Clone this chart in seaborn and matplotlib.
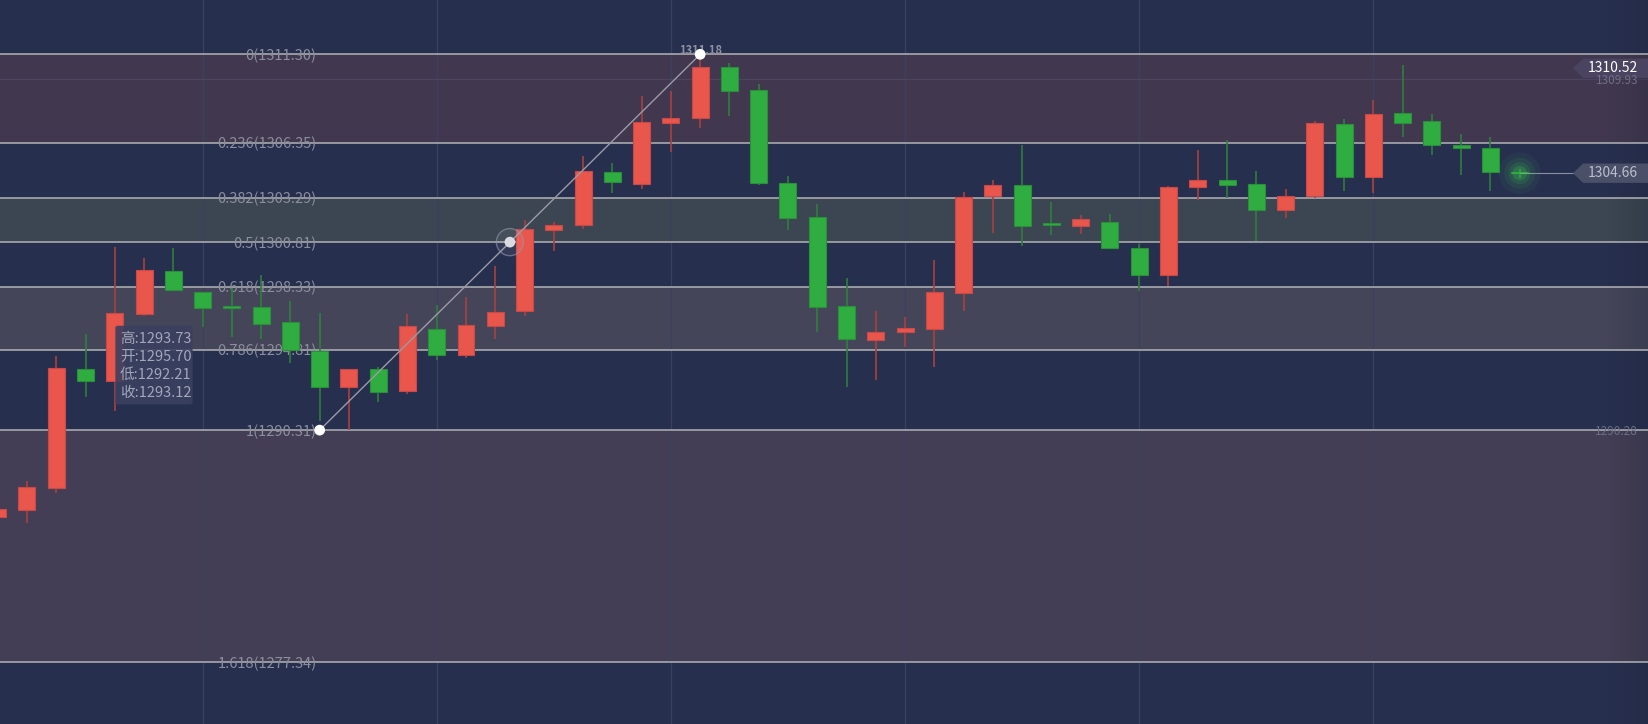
import numpy as np
import pandas as pd
import matplotlib.pyplot as plt
from matplotlib.patches import FancyBboxPatch, Polygon
import seaborn as sns

# candle data, index 0 is the partly hidden first candle
opens = [1285.48, 1285.85, 1287.06, 1293.71, 1293.05, 1296.78, 1299.18, 1298.01, 1297.20, 1297.17,
         1296.33, 1294.75, 1292.74, 1293.71, 1292.48, 1295.94, 1294.49, 1296.11, 1296.95, 1301.47,
         1301.75, 1304.74, 1304.04, 1307.45, 1307.73, 1310.57, 1309.29, 1304.10, 1302.20, 1297.23,
         1295.33, 1295.77, 1295.94, 1297.97, 1303.39, 1304.02, 1301.83, 1301.71, 1301.95, 1300.50,
         1298.97, 1303.89, 1304.30, 1304.07, 1302.59, 1303.37, 1307.38, 1304.45, 1308.00, 1307.56,
         1306.23, 1306.05, 1304.69]
highs = [1285.95, 1287.47, 1294.45, 1295.68, 1300.55, 1299.92, 1300.48, 1298.05, 1298.23, 1298.97,
         1297.52, 1296.85, 1293.71, 1293.85, 1296.80, 1297.30, 1297.75, 1299.48, 1302.05, 1301.92,
         1305.62, 1305.23, 1308.97, 1309.25, 1311.18, 1310.81, 1309.64, 1304.50, 1302.94, 1298.81,
         1296.96, 1296.63, 1299.81, 1303.61, 1304.28, 1306.23, 1303.05, 1302.31, 1302.38, 1300.69,
         1303.94, 1305.96, 1306.51, 1304.78, 1303.78, 1307.57, 1307.69, 1308.75, 1310.70, 1307.97,
         1306.85, 1306.68, 1304.89]
lows = [1285.40, 1285.12, 1286.78, 1292.18, 1291.39, 1296.70, 1298.10, 1296.09, 1295.53, 1295.42,
        1294.04, 1290.84, 1290.32, 1291.90, 1292.31, 1294.24, 1294.36, 1295.42, 1296.70, 1300.33,
        1301.54, 1303.57, 1303.79, 1305.86, 1307.20, 1307.87, 1304.00, 1301.49, 1295.79, 1292.74,
        1293.11, 1294.95, 1293.85, 1296.98, 1301.34, 1300.61, 1301.22, 1301.28, 1300.45, 1298.10,
        1298.36, 1303.18, 1303.27, 1300.89, 1302.17, 1303.27, 1303.68, 1303.57, 1306.68, 1305.69,
        1304.58, 1303.68, 1304.41]
closes = [1285.89, 1287.12, 1293.76, 1293.05, 1296.83, 1299.24, 1298.12, 1297.11, 1297.14, 1296.22,
          1294.79, 1292.74, 1293.71, 1292.42, 1296.11, 1294.49, 1296.16, 1296.89, 1301.52, 1301.78,
          1304.77, 1304.15, 1307.50, 1307.73, 1310.57, 1309.23, 1304.10, 1302.14, 1297.19, 1295.38,
          1295.81, 1296.00, 1298.01, 1303.35, 1304.02, 1301.69, 1301.79, 1302.12, 1300.48, 1298.97,
          1303.89, 1304.30, 1304.00, 1302.59, 1303.37, 1307.44, 1304.45, 1307.95, 1307.45, 1306.22,
          1306.05, 1304.71, 1304.66]

fib_ratios = ["0", "0.236", "0.382", "0.5", "0.618", "0.786", "1", "1.618"]
fib_levels = [1311.30, 1306.35, 1303.29, 1300.81, 1298.33, 1294.81, 1290.31, 1277.34]
swing_idx = [11, 24]          # candles the fib tool was drawn between
peak_label = 1311.18

tip_names = ["高", "开", "低", "收"]
tip_values = [1293.73, 1295.70, 1292.21, 1293.12]

last_price = 1304.66
side_labels = [1310.52, 1309.93, 1290.28]

df = pd.DataFrame({"o": opens, "h": highs, "l": lows, "c": closes})
df["i"] = np.arange(len(df))
df["up"] = df["c"] >= df["o"]

BG = "#272f4f"
sns.set_style("dark", {"axes.facecolor": BG, "figure.facecolor": BG})
plt.rcParams["font.family"] = ["Liberation Sans Narrow", "Noto Sans CJK SC", "DejaVu Sans"]

fig = plt.figure(figsize=(16.48, 7.24), dpi=100)
ax = fig.add_axes([0, 0, 1, 1])
ax.set_facecolor(BG)
ax.set_xlim(0.0786, 56.383)
ax.set_ylim(1273.897, 1314.333)
ax.axis("off")

# fib bands
band_cols = ["#41384f", "#3b4652", "#444559", "#433e55"]
for k, col in enumerate(band_cols):
    ax.axhspan(fib_levels[2 * k + 1], fib_levels[2 * k], color=col, lw=0, zorder=0)

# faint grid
for gx in range(7, 50, 8):
    ax.axvline(gx, color="#3a4160", lw=0.9, zorder=0.5)
ax.axhline(1309.90, color="#4b4560", lw=0.9, zorder=0.5)

# fib lines + labels
for r, lv in zip(fib_ratios, fib_levels):
    ax.axhline(lv, color="#b3b3b6", lw=1.1, zorder=1)
    ax.text(swing_idx[0] - 0.1, lv - 0.08, f"{r}({lv:.2f})", ha="right", va="center",
            fontsize=10.5, color="#8b8e9c", zorder=2)

# candles
red_body, red_edge, red_wick = "#e9564b", "#c9494a", "#a8413f"
grn_body, grn_edge, grn_wick = "#30ad41", "#2a8e3b", "#2f7e3e"
wick_cols = np.where(df["up"], red_wick, grn_wick)
ax.vlines(df["i"], df["l"], df["h"], colors=wick_cols, lw=1.2, zorder=3)
heights = np.maximum((df["c"] - df["o"]).abs(), 0.08)
bottoms = np.minimum(df["o"], df["c"])
ax.bar(df["i"], heights, bottom=bottoms, width=0.58,
       color=np.where(df["up"], red_body, grn_body),
       edgecolor=np.where(df["up"], red_edge, grn_edge), linewidth=0.8, zorder=4)

# swing line and handles
swing = pd.DataFrame({"x": swing_idx, "y": [fib_levels[6], fib_levels[0]]})
sns.lineplot(data=swing, x="x", y="y", ax=ax, color="#9b9ba6", lw=1.0, zorder=5)
mid_x, mid_y = np.mean(swing_idx), fib_levels[3]
ax.scatter([mid_x], [mid_y], s=420, facecolor="#ffffff", alpha=0.06, edgecolor="none", zorder=5)
ax.scatter([mid_x], [mid_y], s=380, facecolor="none", edgecolor="#8f93a8", lw=1.0, alpha=0.6, zorder=5)
ax.scatter([mid_x], [mid_y], s=60, color="#d9dae2", edgecolor="none", zorder=6)
sns.scatterplot(data=swing, x="x", y="y", ax=ax, s=60, color="white", edgecolor="none", zorder=6)
ax.text(swing_idx[1], peak_label + 0.33, f"{peak_label:.2f}", ha="center", va="center",
        fontsize=8, fontweight="bold", color="#8d90a0", zorder=5.5)
ax.set_xlabel("")
ax.set_ylabel("")

# tooltip
tx = 4.02
box = FancyBboxPatch((tx, 1291.75), 2.64, 4.39, boxstyle="round,pad=0,rounding_size=0.1",
                     facecolor="#3b4060", edgecolor="none", alpha=0.9, zorder=7)
ax.add_patch(box)
for k, (n, v) in enumerate(zip(tip_names, tip_values)):
    ax.text(tx + 0.16, 1295.38 - 1.005 * k, f"{n}:{v:.2f}", ha="left", va="center",
            fontsize=10.5, color="#a3a6b8", zorder=8)

# last price marker
last_i = df["i"].iloc[-1]
for s, a in [(900, 0.05), (500, 0.08), (250, 0.12), (110, 0.2)]:
    ax.scatter([last_i], [last_price], s=s, color="#3be04d", alpha=a, edgecolor="none", zorder=4.5)
trans = ax.get_yaxis_transform()
ax.plot([last_i, 53.9], [last_price, last_price], color="#8a8fa3", lw=0.8, zorder=4)

def tag(price, face):
    h = 0.54
    pts = [(0.9545, price), (0.9606, price + h), (1.0, price + h), (1.0, price - h), (0.9606, price - h)]
    ax.add_patch(Polygon(pts, closed=True, transform=trans, facecolor=face, edgecolor="none", zorder=8))

tag(side_labels[0], "#4a4460")
ax.text(0.9939, side_labels[0], f"{side_labels[0]:.2f}", transform=trans, ha="right", va="center",
        fontsize=10, color="white", zorder=9)
ax.text(0.9939, side_labels[1] - 0.08, f"{side_labels[1]:.2f}", transform=trans, ha="right",
        va="center", fontsize=8.5, color="#6f6e86", zorder=9)
tag(last_price, "#4b5069")
ax.text(0.9939, last_price, f"{last_price:.2f}", transform=trans, ha="right", va="center",
        fontsize=10, color="#b9bdcc", zorder=9)
ax.text(0.9939, side_labels[2] - 0.05, f"{side_labels[2]:.2f}", transform=trans, ha="right",
        va="center", fontsize=8.5, color="#6a6d85", zorder=9)

# darker right edge
grad = np.linspace(0, 1, 50)[None, :]
ax.imshow(grad, extent=(0.975, 1.0, 0, 1), transform=ax.transAxes,
          cmap=sns.dark_palette("#1c223a", as_cmap=True),
          alpha=grad * 0.25, aspect="auto", zorder=0.8)

fig.savefig("out.png", dpi=100, facecolor=BG)
